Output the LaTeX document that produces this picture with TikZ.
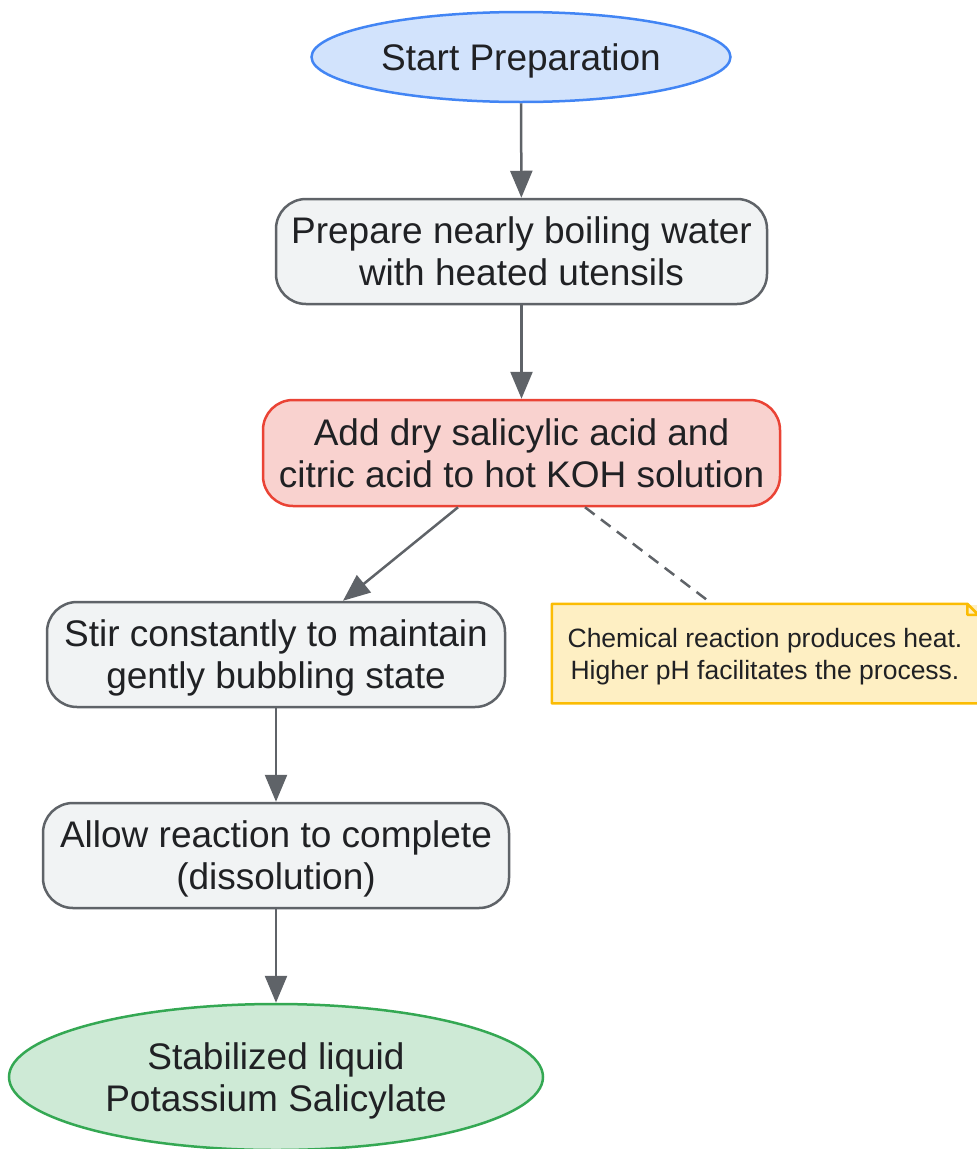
\documentclass[tikz,border=0pt]{standalone}
\usepackage{fontspec}
\setmainfont{Liberation Sans}
\usepackage{tikz}
\usetikzlibrary{shapes.geometric,arrows.meta}

\definecolor{ink}{HTML}{202124}
\definecolor{startfill}{HTML}{D2E3FC}
\definecolor{startline}{HTML}{4285F4}
\definecolor{stepfill}{HTML}{F1F3F4}
\definecolor{stepline}{HTML}{5F6368}
\definecolor{hotfill}{HTML}{F9D2CF}
\definecolor{hotline}{HTML}{EA4335}
\definecolor{endfill}{HTML}{CEEAD6}
\definecolor{endline}{HTML}{34A853}
\definecolor{notefill}{HTML}{FEEFC3}
\definecolor{noteline}{HTML}{FBBC04}

\begin{document}
\begin{tikzpicture}[x=1pt,y=-1pt,
		base/.style={inner sep=0pt, line width=2.5pt, text=ink, align=center, text depth=0pt, font=\fontsize{37}{42}\selectfont},
		terminal/.style={base, ellipse},
		stepbox/.style={base, rectangle, rounded corners=30pt, draw=stepline, fill=stepfill},
		flow/.style={draw=stepline, line width=2.5pt, -{Triangle[length=27pt,width=22pt]}}
	]
		\useasboundingbox (0,0) rectangle (977,1149);

		% main column
		\node (start) [terminal, draw=startline, fill=startfill, minimum width=419pt, minimum height=90pt] at (521,57) {Start Preparation};
		\node (prep) [stepbox, minimum width=491pt, minimum height=105pt] at (521.5,251.5) {Prepare nearly boiling water\\with heated utensils};
		\node (add) [stepbox, draw=hotline, fill=hotfill, minimum width=517pt, minimum height=106pt] at (521.5,453) {Add dry salicylic acid and\\citric acid to hot KOH solution};
		\node (stir) [stepbox, minimum width=458pt, minimum height=105pt] at (276,654.5) {Stir constantly to maintain\\gently bubbling state};
		\node (allow) [stepbox, minimum width=466pt, minimum height=105pt] at (276,855.5) {Allow reaction to complete\\(dissolution)};
		\node (done) [terminal, draw=endline, fill=endfill, minimum width=534pt, minimum height=146pt] at (276,1077) {Stabilized liquid\\Potassium Salicylate};

		% note with folded corner
		\node (note) [base, fill=notefill, minimum width=424pt, minimum height=97pt, font=\fontsize{26.5}{32}\selectfont] at (765,653.5) {Chemical reaction produces heat.\\Higher pH facilitates the process.};
		\draw[noteline, line width=2.5pt, line join=round]
			(note.north west) -- ([xshift=-11pt]note.north east) -- ([yshift=-11pt]note.north east)
			-- (note.south east) -- (note.south west) -- cycle
			([xshift=-11pt]note.north east) |- ([yshift=-11pt]note.north east);

		\path
		(start) edge[flow] (prep)
		(prep) edge[flow] (add)
		([xshift=-63.5pt]add.south) edge[flow] ([xshift=67pt]stir.north)
		(stir) edge[flow] (allow)
		(allow) edge[flow] (done)
		;
		\draw[stepline, line width=2.5pt, dash pattern=on 12pt off 8pt]
		([xshift=63.5pt]add.south) -- ([xshift=-53pt]note.north);
	\end{tikzpicture}
\end{document}
